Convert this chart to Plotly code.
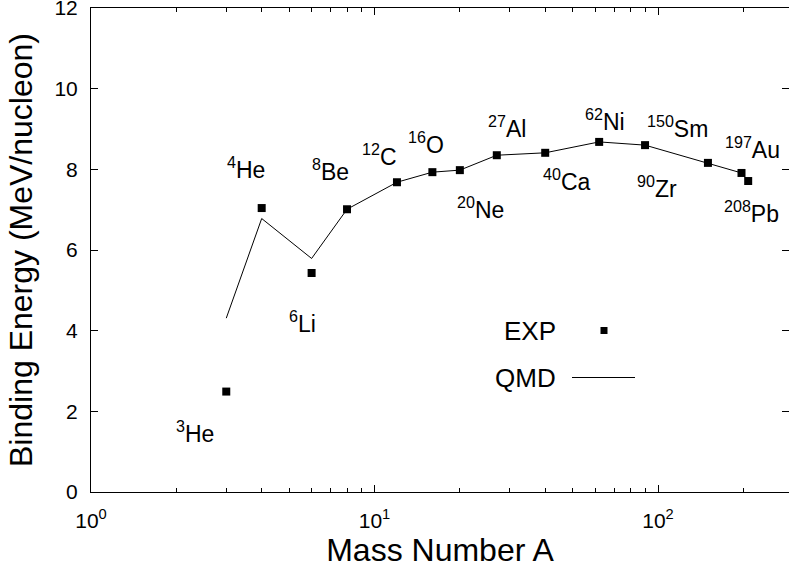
import numpy as np
import plotly.graph_objects as go

# ---- data ----
nuclei = ["3He", "4He", "6Li", "8Be", "12C", "16O", "20Ne", "27Al", "40Ca", "62Ni", "90Zr", "150Sm", "197Au", "208Pb"]
mass_A = [3, 4, 6, 8, 12, 16, 20, 27, 40, 62, 90, 150, 197, 208]
exp_be = [2.49, 7.04, 5.43, 7.01, 7.68, 7.93, 7.98, 8.35, 8.41, 8.68, 8.60, 8.16, 7.91, 7.71]
qmd_be = [4.31, 6.78, 5.79, 7.01, 7.68, 7.93, 7.98, 8.35, 8.41, 8.68, 8.60, 8.16, 7.91, 7.71]

label_mass = ["3", "4", "6", "8", "12", "16", "20", "27", "40", "62", "90", "150", "197", "208"]
label_sym = ["He", "He", "Li", "Be", "C", "O", "Ne", "Al", "Ca", "Ni", "Zr", "Sm", "Au", "Pb"]
label_x = [2.33, 3.51, 5.55, 6.97, 10.45, 15.2, 23.6, 29.3, 47.8, 65.0, 99.2, 117.6, 216, 214]
label_y = [1.49, 8.03, 4.21, 7.98, 8.35, 8.65, 7.04, 9.04, 7.73, 9.22, 7.56, 9.04, 8.52, 6.94]

x_major = [1, 10, 100]
x_major_text = ["10<sup>0</sup>", "10<sup>1</sup>", "10<sup>2</sup>"]
x_minor = [2, 3, 4, 5, 6, 7, 8, 9, 20, 30, 40, 50, 60, 70, 80, 90, 200]
y_ticks = [0, 2, 4, 6, 8, 10, 12]

FONT = "Liberation Sans, Arial, Helvetica, sans-serif"
XRANGE = [0, 2.462]
YRANGE = [0, 12]

W, H = 789, 571
ML, MR, MT, MB = 91, 0, 8, 79
pw, ph = W - ML - MR, H - MT - MB


def px2paper(px, py):
    return (px - ML) / pw, (H - MB - py) / ph


fig = go.Figure()
fig.add_trace(go.Scatter(x=mass_A, y=qmd_be, mode="lines",
                         line=dict(color="black", width=1), showlegend=False,
                         hoverinfo="skip"))
fig.add_trace(go.Scatter(x=mass_A, y=exp_be, mode="markers",
                         marker=dict(symbol="square", size=8, color="black"),
                         showlegend=False))
# dummy trace for the mirrored top/right axes
fig.add_trace(go.Scatter(x=[None], y=[None], xaxis="x2", yaxis="y2", showlegend=False))

for m, s, lx, ly in zip(label_mass, label_sym, label_x, label_y):
    fig.add_annotation(x=np.log10(lx), y=ly, xref="x", yref="y",
                       text=f"<sup>{m}</sup>{s}", showarrow=False,
                       font=dict(size=23, color="black", family=FONT))

# legend drawn manually (text left of the sample)
ex, ey = px2paper(558, 331)
fig.add_annotation(x=ex, y=ey, xref="paper", yref="paper", text="EXP",
                   showarrow=False, xanchor="right", yanchor="middle",
                   font=dict(size=26, color="black", family=FONT))
qx, qy = px2paper(558, 378)
fig.add_annotation(x=qx, y=qy, xref="paper", yref="paper", text="QMD",
                   showarrow=False, xanchor="right", yanchor="middle",
                   font=dict(size=26, color="black", family=FONT))

x0, y0 = px2paper(600.5, 327)
x1, y1 = px2paper(607.5, 334)
fig.add_shape(type="rect", xref="paper", yref="paper", x0=x0, y0=y0, x1=x1, y1=y1,
              fillcolor="black", line=dict(width=0))
lx0, ly0 = px2paper(572, 377.5)
lx1, _ = px2paper(635, 377.5)
fig.add_shape(type="line", xref="paper", yref="paper", x0=lx0, y0=ly0, x1=lx1, y1=ly0,
              line=dict(color="black", width=1))

axis_common = dict(showgrid=False, zeroline=False, color="black",
                   ticklabeloverflow="allow", automargin=False,
                   tickfont=dict(size=21, color="black", family=FONT))

fig.update_layout(
    width=W, height=H,
    margin=dict(l=ML, r=MR, t=MT, b=MB, pad=0, autoexpand=False),
    paper_bgcolor="white", plot_bgcolor="white",
    font=dict(family=FONT, color="black"),
    xaxis=dict(type="log", range=XRANGE, tickvals=x_major, ticktext=x_major_text,
               ticks="inside", ticklen=7, tickcolor="black", showline=True,
               linecolor="black", linewidth=1, ticklabelstandoff=10,
               minor=dict(tickvals=x_minor, ticks="inside", ticklen=4, tickcolor="black"),
               title=dict(text="Mass Number A", font=dict(size=32, family=FONT), standoff=6),
               **axis_common),
    yaxis=dict(range=YRANGE, tickvals=y_ticks, ticks="inside", ticklen=7, tickcolor="black",
               showline=True, linecolor="black", linewidth=1, ticklabelstandoff=8,
               title=dict(text="Binding Energy (MeV/nucleon)", font=dict(size=32, family=FONT), standoff=12),
               **axis_common),
    xaxis2=dict(type="log", range=XRANGE, overlaying="x", side="top", anchor="y",
                tickvals=x_major, ticks="inside", ticklen=7, tickcolor="black",
                showticklabels=False, showline=True, linecolor="black", linewidth=1,
                minor=dict(tickvals=x_minor, ticks="inside", ticklen=4, tickcolor="black"),
                showgrid=False, zeroline=False, automargin=False),
    yaxis2=dict(range=YRANGE, overlaying="y", side="right", anchor="x",
                tickvals=y_ticks, ticks="inside", ticklen=7, tickcolor="black",
                showticklabels=False, showline=False, showgrid=False, zeroline=False,
                automargin=False),
)

fig.write_html("out.html")
